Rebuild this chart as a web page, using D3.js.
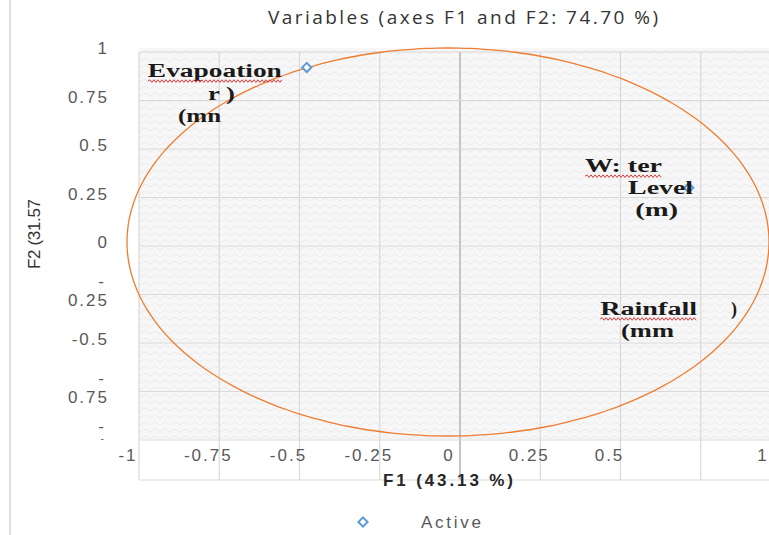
<!DOCTYPE html>
<html>
<head>
<meta charset="utf-8">
<script src="https://cdn.jsdelivr.net/npm/d3@7"></script>
<style>
  body { margin: 0; background: #fff; }
  svg { display: block; }
  .tick-label { font-family: "Liberation Sans", Arial, sans-serif; font-size: 17px; fill: #595959; letter-spacing: 2px; }
  .var-label { font-family: "Liberation Serif", "Times New Roman", serif; font-size: 18px; font-weight: bold; fill: #1a1a1a; }
</style>
</head>
<body>
<div id="chart"></div>
<script>
// ---- data ----
var title = 'Variables  (axes F1 and F2: 74.70 %)';
var xTitle = 'F1 (43.13 %)';
var yTitle = 'F2 (31.57';
var xTicks = [-1, -0.75, -0.5, -0.25, 0, 0.25, 0.5, 1];
var xTickLabels = ['-1', '-0.75', '-0.5', '-0.25', '0', '0.25', '0.5', '1'];
var gridValues = [-1, -0.75, -0.5, -0.25, 0, 0.25, 0.5, 0.75, 1];
var yTicks = [1, 0.75, 0.5, 0.25, 0, -0.25, -0.5, -0.75, -1];
var yTickLabels = ['1', '0.75', '0.5', '0.25', '0', '-0.25', '-0.5', '-0.75', '-1'];
var pointNames = ['Evaporation (mm)', 'Water Level (m)'];
var pointF1 = [-0.44, 0.75];
var pointF2 = [0.90, 0.28];
var labelLines = ['Evapoation', 'r )', '(mn', 'W: ter', 'Level', '(m)', 'Rainfall', ')', '(mm'];
var legendName = 'Active';

// label placement (left edge / baseline, in F1/F2 units) and rendered widths
var labelLayout = [
  {f1: -0.935, f2: 0.85, w: 134, wavy: true},
  {f1: -0.748, f2: 0.73, w: 27},
  {f1: -0.841, f2: 0.62, w: 43},
  {f1: 0.427, f2: 0.36, w: 77, wavy: true},
  {f1: 0.561, f2: 0.25, w: 65},
  {f1: 0.583, f2: 0.135, w: 43},
  {f1: 0.474, f2: -0.376, w: 97, wavy: true},
  {f1: 0.882, f2: -0.376, w: 6},
  {f1: 0.539, f2: -0.49, w: 53}
];

var W = 769, H = 535;
var svg = d3.select('#chart').append('svg')
  .attr('width', W)
  .attr('height', H);

// scales
var x = d3.scaleLinear().domain([-1, 1]).range([127, 769]);
var y = d3.scaleLinear().domain([-1, 1]).range([436, 48]);

// hatched background pattern
var defs = svg.append('defs');
var pat = defs.append('pattern')
  .attr('id', 'hatch')
  .attr('width', 10).attr('height', 7)
  .attr('patternUnits', 'userSpaceOnUse');
pat.append('rect').attr('width', 10).attr('height', 7).attr('fill', '#f7f7f7');
pat.append('path')
  .attr('d', 'M0,5 L5,2 L10,5')
  .attr('fill', 'none')
  .attr('stroke', '#ebebeb')
  .attr('stroke-width', 1);

defs.append('clipPath').attr('id', 'yclip')
  .append('rect').attr('x', 0).attr('y', 30).attr('width', 130).attr('height', 410);

// page border on the left
svg.append('line')
  .attr('x1', 10).attr('x2', 10).attr('y1', 0).attr('y2', H)
  .attr('stroke', '#d4d4d4').attr('stroke-width', 1.5);

// title
svg.append('text')
  .attr('x', 463).attr('y', 24)
  .attr('text-anchor', 'middle')
  .attr('textLength', 390)
  .style('font-family', '"Open Sans", sans-serif')
  .style('font-size', '19px')
  .style('fill', '#333')
  .text(title);

// plot area (the scan puts the grid a little right of the labels)
var gridShift = 12;
var plotLeft = x(-1) + gridShift;
svg.append('rect')
  .attr('x', plotLeft).attr('y', y(1))
  .attr('width', W - plotLeft).attr('height', 439 - y(1))
  .attr('fill', 'url(#hatch)');

var grid = svg.append('g').attr('transform', 'translate(' + gridShift + ',4)');

grid.selectAll('.vgrid')
  .data(gridValues)
  .enter().append('line')
    .attr('class', 'vgrid')
    .attr('x1', function(d) { return x(d); })
    .attr('x2', function(d) { return x(d); })
    .attr('y1', y(1))
    .attr('y2', 476)
    .attr('stroke', function(d) { return d === 0 ? '#c4c4c4' : '#d9d9d9'; })
    .attr('stroke-width', function(d) { return d === 0 ? 2 : 1.2; });

grid.selectAll('.hgrid')
  .data(yTicks)
  .enter().append('line')
    .attr('class', 'hgrid')
    .attr('x1', x(-1))
    .attr('x2', W)
    .attr('y1', function(d) { return y(d); })
    .attr('y2', function(d) { return y(d); })
    .attr('stroke', '#d9d9d9')
    .attr('stroke-width', 1.2);

// bottom frame under the tick labels
grid.append('line')
  .attr('x1', x(-1)).attr('x2', W)
  .attr('y1', 476).attr('y2', 476)
  .attr('stroke', '#d9d9d9').attr('stroke-width', 1.2);

// correlation circle
var angles = d3.range(0, 361, 2).map(function(a) { return a * Math.PI / 180; });
var circleLine = d3.line()
  .x(function(t) { return x(Math.cos(t)); })
  .y(function(t) { return y(Math.sin(t)); })
  .curve(d3.curveCardinal);
svg.append('path')
  .datum(angles)
  .attr('d', circleLine)
  .attr('fill', 'none')
  .attr('stroke', '#ed7d31')
  .attr('stroke-width', 1.3);

// variable points
var diamond = d3.symbol().type(d3.symbolSquare).size(42);
svg.selectAll('.pt')
  .data(pointF1)
  .enter().append('path')
    .attr('class', 'pt')
    .attr('d', diamond)
    .attr('transform', function(d, i) {
      return 'translate(' + x(d) + ',' + y(pointF2[i]) + ') rotate(45)';
    })
    .attr('fill', '#fff')
    .attr('stroke', '#5b9bd5')
    .attr('stroke-width', 2);

// variable labels
function wavyPath(x0, x1, yy) {
  var p = d3.path();
  p.moveTo(x0, yy);
  var up = true;
  for (var xx = x0 + 2; xx <= x1; xx += 2) {
    p.lineTo(xx, yy + (up ? -1.3 : 1.3));
    up = !up;
  }
  return p.toString();
}

labelLines.forEach(function(txt, i) {
  var l = labelLayout[i];
  svg.append('text')
    .attr('class', 'var-label')
    .attr('x', x(l.f1))
    .attr('y', y(l.f2))
    .attr('textLength', l.w)
    .attr('lengthAdjust', 'spacingAndGlyphs')
    .text(txt);
  if (l.wavy) {
    svg.append('path')
      .attr('d', wavyPath(x(l.f1), x(l.f1) + l.w, y(l.f2) + 4))
      .attr('fill', 'none')
      .attr('stroke', '#d83a3a')
      .attr('stroke-width', 1);
  }
});

// x tick labels
svg.selectAll('.xlab')
  .data(xTicks)
  .enter().append('text')
    .attr('class', 'tick-label')
    .attr('x', function(d) { return Math.min(x(d) + 1, W - 6); })
    .attr('y', 461)
    .attr('text-anchor', 'middle')
    .text(function(d, i) { return xTickLabels[i]; });

// y tick labels (negatives wrap onto two lines like in the picture)
var ylab = svg.append('g').attr('clip-path', 'url(#yclip)');
yTicks.forEach(function(v, i) {
  var s = yTickLabels[i];
  var t = ylab.append('text')
    .attr('class', 'tick-label')
    .attr('text-anchor', 'end')
    .attr('x', 109)
    .attr('y', y(v) + 6);
  if (s.charAt(0) === '-' && s !== '-0.5') {
    t.attr('y', y(v) - 4);
    t.append('tspan').attr('x', 106).text('-');
    t.append('tspan').attr('x', 109).attr('dy', 19).text(s.slice(1));
  } else {
    t.text(s);
  }
});

// axis titles
svg.append('text')
  .attr('x', 448).attr('y', 486)
  .attr('text-anchor', 'middle')
  .attr('textLength', 130)
  .style('font-family', '"Liberation Sans", Arial, sans-serif')
  .style('font-size', '17px')
  .style('font-weight', 'bold')
  .style('fill', '#262626')
  .text(xTitle);

svg.append('text')
  .attr('transform', 'translate(40,' + (y(0) - 8) + ') rotate(-90)')
  .attr('text-anchor', 'middle')
  .attr('textLength', 70)
  .style('font-family', '"Liberation Sans Narrow", "Liberation Sans", sans-serif')
  .style('font-size', '17px')
  .style('fill', '#333')
  .text(yTitle);

// legend
var legend = svg.append('g').attr('transform', 'translate(363,522)');
legend.append('path')
  .attr('d', diamond)
  .attr('transform', 'rotate(45)')
  .attr('fill', '#fff')
  .attr('stroke', '#5b9bd5')
  .attr('stroke-width', 2);
legend.append('text')
  .attr('class', 'tick-label')
  .attr('x', 58).attr('y', 6)
  .attr('textLength', 62)
  .text(legendName);
</script>
</body>
</html>
